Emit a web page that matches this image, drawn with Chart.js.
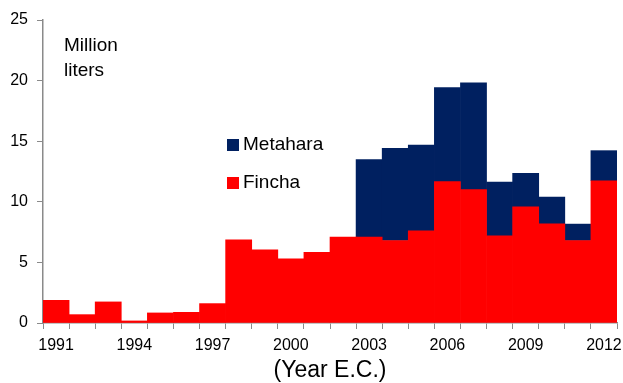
<!DOCTYPE html>
<html>
<head>
<meta charset="utf-8">
<script src="https://cdn.jsdelivr.net/npm/chart.js@4"></script>
<style>
	body { margin: 0; background: #fff; }
	#wrap { width: 623px; height: 383px; }
</style>
</head>
<body>
<div id="wrap"><canvas id="myChart" width="623" height="383"></canvas></div>
<script>
// data
const years = ['1991', '1992', '1993', '1994', '1995', '1996', '1997', '1998', '1999', '2000', '2001',
	'2002', '2003', '2004', '2005', '2006', '2007', '2008', '2009', '2010', '2011', '2012']
const fincha = [1.87, 0.69, 1.74, 0.17, 0.83, 0.88, 1.6, 6.86, 6.04, 5.29, 5.84,
	7.08, 7.08, 6.81, 7.61, 11.66, 11.0, 7.19, 9.59, 8.19, 6.81, 11.74]
const metahara = [null, null, null, null, null, null, null, null, null, null, null,
	null, 6.4, 7.61, 7.08, 7.77, 8.82, 4.44, 2.76, 2.2, 1.35, 2.48]
const yTicks = [0, 5, 10, 15, 20, 25]

const sans = "'Liberation Sans', Arial, sans-serif"
const axisGray = '#8a8a8a'

// unit label + legend drawn inside the plot
const notes = {
	id: 'notes',
	afterDraw(chart) {
		const ctx = chart.ctx
		ctx.save()
		ctx.fillStyle = '#000'
		ctx.font = '19px ' + sans
		ctx.textBaseline = 'middle'
		ctx.fillText('Million', 64, 46)
		ctx.fillText('liters', 64, 71)

		const items = [chart.data.datasets[1], chart.data.datasets[0]]
		items.forEach((ds, i) => {
			const y = 145 + i * 38
			ctx.fillStyle = ds.backgroundColor
			ctx.fillRect(227, y - 6, 12, 12)
			ctx.fillStyle = '#000'
			ctx.fillText(ds.label, 243, y)
		})
		ctx.restore()
	},
}

const ctx = document.getElementById('myChart').getContext('2d')
const myChart = new Chart(ctx, {
	type: 'bar',
	data: {
		labels: years,
		datasets: [
			{
				label: 'Fincha',
				data: fincha,
				backgroundColor: '#ff0000',
				borderWidth: 0,
				barPercentage: 1,
				categoryPercentage: 1,
			},
			{
				label: 'Metahara',
				data: metahara,
				backgroundColor: '#002060',
				borderWidth: 0,
				barPercentage: 1,
				categoryPercentage: 1,
			},
		],
	},
	options: {
		responsive: false,
		animation: false,
		layout: { padding: { top: 20, right: 6, left: 0, bottom: 0 } },
		plugins: {
			legend: { display: false },
			tooltip: { enabled: false },
		},
		scales: {
			x: {
				stacked: true,
				grid: { offset: true, drawOnChartArea: false, tickLength: 6, color: axisGray },
				border: { color: axisGray, width: 1.5 },
				ticks: {
					autoSkip: false,
					maxRotation: 0,
					padding: 7,
					color: '#000',
					font: { family: sans, size: 16 },
					callback: (v, i) => (i % 3 === 0 ? years[i] : ''),
				},
				title: {
					display: true,
					text: '(Year E.C.)',
					color: '#000',
					font: { family: sans, size: 23, lineHeight: 1 },
					padding: { top: 0, bottom: 1 },
				},
				afterFit: (scale) => {
					scale.height = 60
					scale.paddingLeft = 0
					scale.paddingRight = 0
				},
			},
			y: {
				stacked: true,
				min: 0,
				max: 25,
				afterBuildTicks: (scale) => { scale.ticks = yTicks.map((v) => ({ value: v })) },
				grid: { drawOnChartArea: false, tickLength: 6, color: axisGray },
				border: { color: axisGray, width: 1.5 },
				ticks: {
					padding: 9,
					color: '#000',
					font: { family: sans, size: 16 },
				},
				afterFit: (scale) => { scale.width = 43 },
			},
		},
	},
	plugins: [notes],
})
</script>
</body>
</html>
